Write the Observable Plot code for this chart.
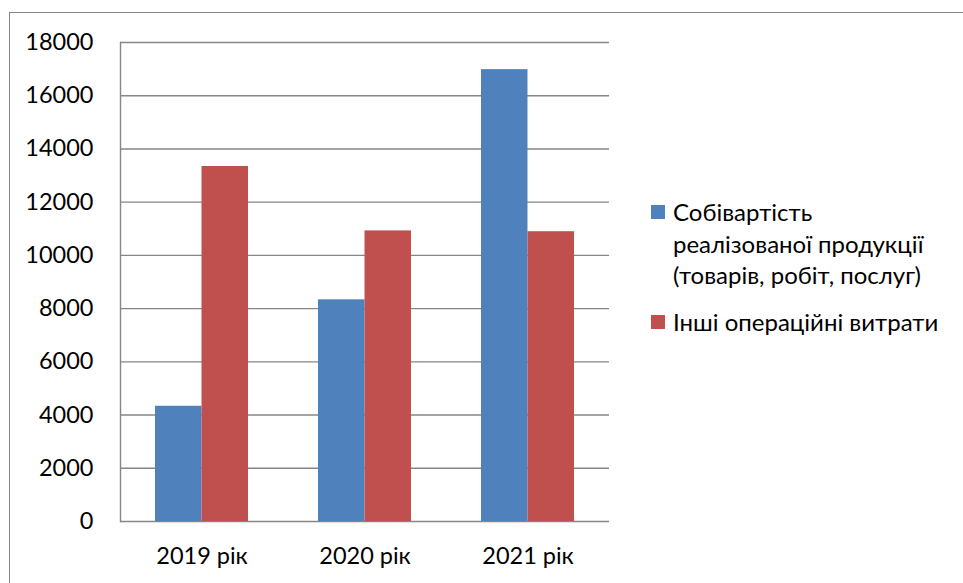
<!DOCTYPE html>
<html>
<head>
<meta charset="utf-8">
<script src="https://cdn.jsdelivr.net/npm/d3@7"></script>
<script src="https://cdn.jsdelivr.net/npm/@observablehq/plot@0.6"></script>
<style>
  html, body { margin: 0; padding: 0; background: #fff; overflow: hidden; }
  #wrap { position: relative; width: 963px; height: 583px; font-family: Lato, "Open Sans", sans-serif; }
  #border { position: absolute; left: 9px; top: 12px; width: 1000px; height: 1000px; border: 1px solid #858585; box-sizing: border-box; }
  #legend { position: absolute; left: 651px; top: 196px; font-size: 24px; color: #000; line-height: 31.7px; }
  .item { position: relative; padding-left: 22px; }
  .sw { position: absolute; left: 0; width: 14px; height: 14px; }
  #chart { position: absolute; left: 0; top: 0; }
</style>
</head>
<body>
<div id="wrap">
  <div id="border"></div>
  <div id="chart"></div>
  <div id="legend"></div>
</div>
<script>
const categories = ["2019 рік", "2020 рік", "2021 рік"];
const seriesNames = ["Собівартість реалізованої продукції (товарів, робіт, послуг)", "Інші операційні витрати"];
const seriesLabelLines = [["Собівартість", "реалізованої продукції", "(товарів, робіт, послуг)"], ["Інші операційні витрати"]];
const costOfSales = [4330, 8330, 16980];
const otherExpenses = [13340, 10920, 10890];
const yTicks = [0, 2000, 4000, 6000, 8000, 10000, 12000, 14000, 16000, 18000];
const colors = ["#4F81BD", "#C0504D"];

const rows = [];
categories.forEach((c, i) => {
  rows.push({year: c, series: seriesNames[0], value: costOfSales[i]});
  rows.push({year: c, series: seriesNames[1], value: otherExpenses[i]});
});

const half = 46.5;
const chart = Plot.plot({
  width: 963,
  height: 583,
  marginLeft: 120,
  marginRight: 354,
  marginTop: 42,
  marginBottom: 62,
  style: {fontFamily: "Lato, 'Open Sans', sans-serif", fontSize: "23.5px", color: "#000", background: "transparent"},
  x: {domain: categories, paddingInner: 0.43, paddingOuter: 0.215, label: null, tickSize: 0, tickPadding: 26},
  y: {domain: [0, 18000], ticks: yTicks, label: null, tickSize: 0, tickPadding: 27, tickFormat: d => String(d)},
  color: {domain: seriesNames, range: colors},
  marks: [
    Plot.ruleY(yTicks, {stroke: "#868686", strokeWidth: 1.4, strokeOpacity: 1}),
    Plot.barY(rows.filter(d => d.series === seriesNames[0]), {x: "year", y: "value", fill: colors[0], insetRight: half, insetLeft: 0}),
    Plot.barY(rows.filter(d => d.series === seriesNames[1]), {x: "year", y: "value", fill: colors[1], insetLeft: half, insetRight: 0}),
    Plot.frame({anchor: "left", stroke: "#868686", strokeWidth: 1.4})
  ]
});
document.getElementById("chart").appendChild(chart);

const legend = document.getElementById("legend");
seriesLabelLines.forEach((lines, i) => {
  const item = document.createElement("div");
  item.className = "item";
  if (i > 0) item.style.marginTop = "15px";
  const sw = document.createElement("div");
  sw.className = "sw";
  sw.style.background = colors[i];
  sw.style.top = "9px";
  item.appendChild(sw);
  item.innerHTML += lines.join("<br>");
  legend.appendChild(item);
});
</script>
</body>
</html>
